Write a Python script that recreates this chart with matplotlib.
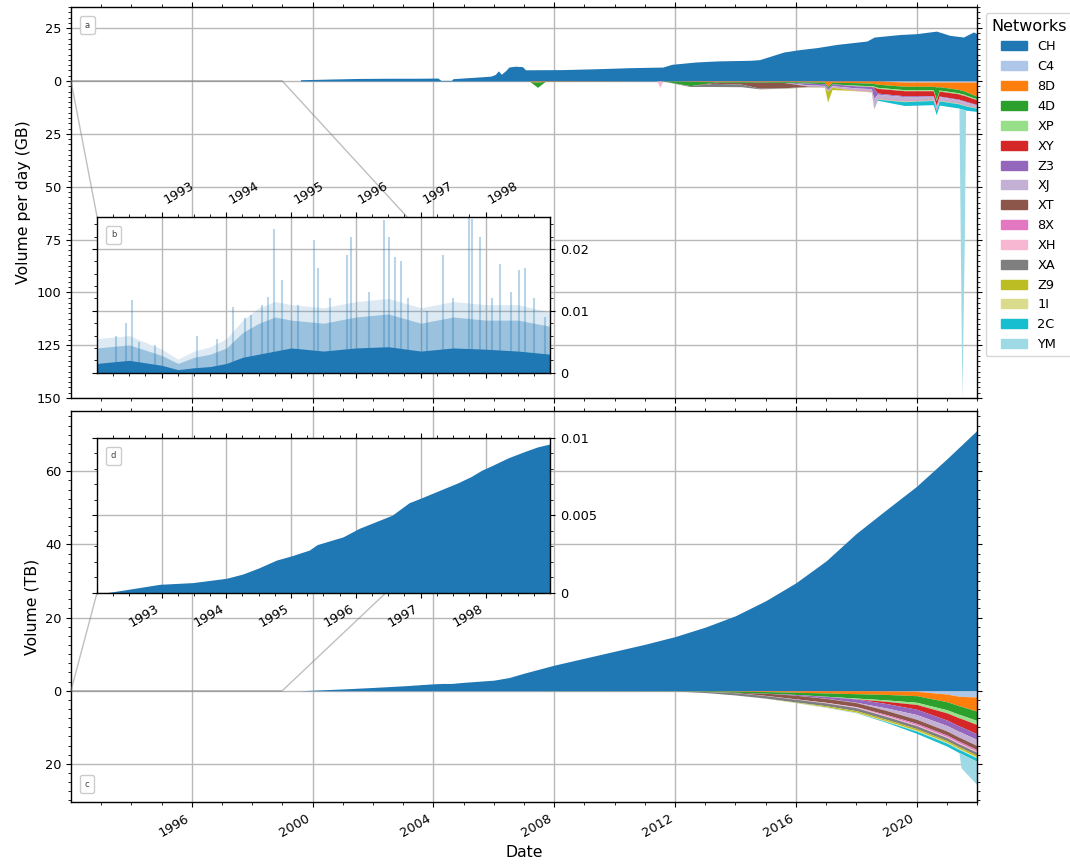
import matplotlib
matplotlib.use("Agg")
import matplotlib.pyplot as plt
import matplotlib.dates as mdates
from matplotlib.offsetbox import AnchoredText
from matplotlib.patches import Patch
from matplotlib.ticker import FuncFormatter, MultipleLocator
import numpy as np
import pandas as pd

networks = ["CH", "C4", "8D", "4D", "XP", "XY", "Z3", "XJ", "XT", "8X", "XH", "XA", "Z9", "1I", "2C", "YM"]
colors = ["#1f77b4", "#aec7e8", "#ff7f0e", "#2ca02c", "#98df8a", "#d62728", "#9467bd", "#c5b0d5",
          "#8c564b", "#e377c2", "#f7b6d2", "#7f7f7f", "#bcbd22", "#dbdb8d", "#17becf", "#9edae5"]

# --- panel a: daily volume (GB), CH upward ---
ch_day_years = [1999.6, 2000.5, 2001.5, 2002.5, 2003.5, 2004.15, 2004.25, 2004.6, 2004.65, 2005.5,
                2005.9, 2006.05, 2006.15, 2006.25, 2006.4, 2006.5, 2006.7, 2006.95, 2007.05, 2008.3,
                2009.4, 2010.5, 2011.6, 2011.9, 2012.7, 2013.4, 2014.5, 2014.8, 2015.6, 2016.1,
                2016.7, 2017.35, 2018.35, 2018.6, 2019.45, 2020.0, 2020.66, 2021.1, 2021.55, 2021.88,
                2022.0]
ch_day = [0.6, 0.9, 1.2, 1.3, 1.3, 1.4, 0.3, 0.3, 1.1, 1.9,
          2.3, 3.1, 4.8, 3.2, 5.0, 6.6, 7.0, 6.8, 5.3, 5.4,
          5.8, 6.3, 6.6, 7.9, 9.0, 9.5, 9.8, 10.1, 13.7, 14.8,
          15.8, 17.3, 18.9, 20.8, 22.0, 22.4, 23.6, 21.6, 20.8, 23.2,
          22.4]

# other networks, stacked downward (GB per day)
neg_day_years = [2007.2, 2007.45, 2007.7, 2011.4, 2011.5, 2011.6, 2012.5, 2013.3, 2014.2, 2014.8,
                 2015.6, 2016.4, 2016.95, 2017.05, 2017.2, 2018.0, 2018.5, 2018.58, 2018.7, 2019.6,
                 2020.55, 2020.65, 2020.75, 2021.4, 2021.45, 2021.5, 2021.58, 2021.62, 2022.0]
day_C4 = [0, 0, 0, 0, 0, 0, 0, 0, 0, 0, 0, 0, 0, 0, 0, 0, 0, 0, 0, 0.5, 0.5, 0.5, 0.5, 0.5, 0.5, 0.5, 0.5, 0.5, 0.5]
day_8D = [0.3, 0.5, 0.2, 0, 0, 0, 0.2, 0.3, 0.3, 0.3, 0.3, 0.4, 0.5, 2.5, 0.6, 0.8, 1.0, 1.2, 1.5, 2.0,
          2.0, 2.3, 2.2, 3.5, 3.8, 4.0, 4.2, 4.5, 6.8]
day_4D = [0, 2.5, 0, 0, 0, 0, 2.0, 0.3, 0.4, 0.3, 0.4, 0.6, 0.8, 0.8, 0.8, 1.2, 1.2, 1.2, 1.5, 1.6,
          1.6, 6.0, 1.6, 1.6, 1.6, 1.6, 1.6, 1.6, 1.2]
day_XP = [0, 0, 0, 0, 0, 0, 0, 0, 0, 0, 0, 0, 0, 0, 0, 0.3, 0.4, 0.4, 0.5, 0.5,
          0.5, 0.5, 0.5, 0.5, 0.5, 0.5, 0.5, 0.5, 0.4]
day_XY = [0, 0, 0, 0, 0, 0, 0, 0, 0, 0, 0, 0, 0, 0, 0, 0, 0, 0.5, 2.2, 2.4,
          2.3, 2.3, 2.3, 2.5, 2.5, 2.5, 2.5, 2.5, 2.2]
day_Z3 = [0, 0, 0, 0, 0, 0, 0, 0, 0, 0, 0, 0.8, 0.8, 0.8, 0.8, 1.0, 1.0, 5.0, 0.5, 0.4,
          0.3, 0.3, 0.3, 0.3, 0.3, 0.3, 0.3, 0.3, 0.3]
day_XJ = [0, 0, 0, 0, 0, 0, 0, 0, 0, 0, 0, 0.6, 0.5, 0.5, 0.5, 0.6, 0.8, 4.0, 1.6, 1.6,
          1.3, 1.3, 1.3, 1.2, 1.2, 1.2, 1.2, 1.2, 0.8]
day_XT = [0, 0, 0, 0, 0, 0, 0, 0.5, 0.8, 2.8, 2.5, 0.2, 0.1, 0.1, 0.1, 0.1, 0.1, 0.1, 0.1, 0.1,
          0.1, 0.1, 0.1, 0.1, 0.1, 0.1, 0.1, 0.1, 0.1]
day_8X = [0, 0, 0, 0, 0, 0, 0, 0, 0, 0, 0, 0, 0, 0, 0, 0.3, 0.3, 0.4, 0.3, 0.3,
          0.2, 0.2, 0.2, 0.2, 0.2, 0.2, 0.2, 0.2, 0.2]
day_XH = [0, 0, 0, 0, 3.0, 0, 0, 0, 0, 0, 0, 0.1, 0.1, 0.1, 0.1, 0.1, 0.1, 0.1, 0.1, 0.1,
          0.1, 0.1, 0.1, 0.1, 0.1, 0.1, 0.1, 0.1, 0.1]
day_XA = [0, 0, 0, 0, 0, 0, 0.4, 1.5, 1.2, 0.3, 0.2, 0.1, 0.1, 0.1, 0.1, 0.1, 0.1, 0.1, 0.1, 0.1,
          0.1, 0.1, 0.1, 0.1, 0.1, 0.1, 0.1, 0.1, 0.1]
day_Z9 = [0, 0, 0, 0, 0, 0, 0, 0, 0, 0, 0, 0, 0, 5.0, 1.0, 0.1, 0.1, 0.1, 0.1, 0.1,
          0.1, 0.1, 0.1, 0.1, 0.1, 0.1, 0.1, 0.1, 0.1]
day_1I = [0, 0, 0, 0, 0, 0, 0, 0, 0, 0, 0.1, 0.1, 0.1, 0.1, 0.1, 0.1, 0.1, 0.1, 0.1, 0.1,
          0.1, 0.1, 0.1, 0.1, 0.1, 0.1, 0.1, 0.1, 0.1]
day_2C = [0, 0, 0, 0, 0, 0, 0, 0, 0, 0, 0, 0, 0, 0, 0, 0, 0, 0, 0.5, 1.8,
          2.0, 2.0, 2.0, 2.0, 2.0, 2.0, 2.0, 2.0, 1.5]
day_YM = [0, 0, 0, 0, 0, 0, 0, 0, 0, 0, 0, 0, 0, 0, 0, 0, 0, 0, 0, 0,
          0, 0, 0, 0, 70, 137, 60, 0, 0]

# --- panel b: early daily volume (GB), 1992-1999 ---
b_years = [1992.0, 1992.5, 1993.0, 1993.25, 1993.5, 1993.75, 1994.0, 1994.25, 1994.5, 1994.75,
           1995.0, 1995.5, 1996.0, 1996.5, 1997.0, 1997.5, 1998.0, 1998.5, 1999.0]
b_solid = [0.0015, 0.002, 0.0012, 0.0005, 0.0008, 0.001, 0.0015, 0.0025, 0.003, 0.0035,
           0.004, 0.0035, 0.004, 0.0042, 0.0035, 0.004, 0.0038, 0.0035, 0.003]
b_haze = [0.004, 0.0045, 0.0028, 0.0015, 0.0025, 0.003, 0.004, 0.0065, 0.008, 0.009,
          0.0085, 0.008, 0.009, 0.0095, 0.008, 0.009, 0.0085, 0.0085, 0.0075]
b_haze_top = [0.0055, 0.006, 0.0038, 0.0022, 0.0035, 0.0042, 0.0055, 0.0085, 0.0105, 0.0115,
              0.011, 0.0105, 0.0115, 0.012, 0.0105, 0.0115, 0.011, 0.011, 0.0098]
b_spike_years = [1992.3, 1992.45, 1992.54, 1992.65, 1992.9, 1993.55, 1993.85, 1994.1, 1994.28, 1994.38,
                 1994.55, 1994.64, 1994.74, 1994.85, 1995.11, 1995.35, 1995.42, 1995.6, 1995.86, 1995.92,
                 1996.2, 1996.43, 1996.51, 1996.61, 1996.69, 1996.8, 1997.1, 1997.35, 1997.5, 1997.74,
                 1997.79, 1997.92, 1998.1, 1998.23, 1998.4, 1998.51, 1998.61, 1998.75, 1998.92]
b_spikes = [0.006, 0.008, 0.0117, 0.005, 0.0045, 0.006, 0.0055, 0.0106, 0.0089, 0.0094,
            0.011, 0.0123, 0.0233, 0.015, 0.011, 0.0214, 0.017, 0.012, 0.019, 0.022,
            0.013, 0.0246, 0.022, 0.0187, 0.018, 0.012, 0.01, 0.019, 0.012, 0.025,
            0.0249, 0.022, 0.012, 0.0176, 0.013, 0.0166, 0.017, 0.012, 0.009]

# --- panel c: cumulative volume (TB) ---
ch_cum_years = [1999.6, 2000.0, 2001.0, 2002.0, 2003.0, 2004.0, 2004.3, 2004.6, 2005.0, 2006.0,
                2006.5, 2007.0, 2008.0, 2009.0, 2010.0, 2011.0, 2012.0, 2013.0, 2014.0, 2015.0,
                2016.0, 2017.0, 2018.0, 2019.0, 2020.0, 2021.0, 2022.0]
ch_cum = [0.01, 0.15, 0.5, 0.9, 1.35, 1.9, 2.0, 2.0, 2.3, 2.9,
          3.6, 4.8, 7.0, 8.9, 10.8, 12.7, 14.8, 17.4, 20.5, 24.6,
          29.5, 35.5, 43.0, 49.5, 55.9, 63.4, 71.2]

neg_cum_years = [2007.5, 2012.0, 2013.0, 2014.0, 2015.0, 2016.0, 2017.0, 2018.0, 2019.0, 2020.0,
                 2021.0, 2021.4, 2021.47, 2022.0]
cum_C4 = [0, 0, 0, 0, 0, 0, 0, 0, 0.05, 0.15, 0.9, 1.5, 1.55, 1.7]
cum_8D = [0.01, 0.02, 0.05, 0.12, 0.22, 0.4, 0.6, 0.8, 0.95, 1.2, 2.1, 2.6, 2.7, 3.9]
cum_4D = [0.01, 0.03, 0.12, 0.3, 0.45, 0.6, 0.9, 1.2, 1.5, 1.8, 2.2, 2.35, 2.37, 2.55]
cum_XP = [0, 0, 0, 0, 0, 0, 0.05, 0.2, 0.4, 0.6, 0.85, 0.95, 0.96, 1.1]
cum_XY = [0, 0, 0, 0, 0, 0, 0, 0.05, 0.6, 1.3, 1.95, 2.2, 2.25, 2.55]
cum_Z3 = [0, 0, 0, 0, 0, 0.2, 0.5, 0.9, 1.2, 1.45, 1.5, 1.52, 1.53, 1.55]
cum_XJ = [0, 0, 0, 0, 0, 0.02, 0.05, 0.1, 0.7, 1.3, 1.5, 1.57, 1.58, 1.65]
cum_XT = [0, 0, 0, 0.1, 0.6, 1.0, 1.05, 1.08, 1.1, 1.1, 1.1, 1.1, 1.1, 1.1]
cum_8X = [0, 0, 0, 0, 0, 0, 0.02, 0.1, 0.3, 0.4, 0.43, 0.44, 0.44, 0.45]
cum_XH = [0, 0.01, 0.02, 0.03, 0.05, 0.1, 0.15, 0.2, 0.22, 0.25, 0.27, 0.28, 0.28, 0.3]
cum_XA = [0, 0, 0.3, 0.6, 0.7, 0.75, 0.78, 0.8, 0.8, 0.8, 0.8, 0.8, 0.8, 0.8]
cum_Z9 = [0, 0, 0, 0, 0, 0.1, 0.3, 0.4, 0.42, 0.44, 0.45, 0.45, 0.45, 0.45]
cum_1I = [0, 0, 0, 0, 0.02, 0.05, 0.1, 0.15, 0.2, 0.25, 0.28, 0.29, 0.29, 0.3]
cum_2C = [0, 0, 0, 0, 0, 0.02, 0.03, 0.05, 0.2, 0.6, 0.8, 0.85, 0.86, 0.9]
cum_YM = [0, 0, 0, 0, 0, 0, 0, 0, 0, 0, 0, 0, 3.9, 6.4]

# --- panel d: early cumulative volume (TB) ---
d_years = [1992.15, 1992.46, 1992.97, 1993.48, 1994.0, 1994.25, 1994.5, 1994.77, 1995.0, 1995.28,
           1995.4, 1995.8, 1996.05, 1996.56, 1996.82, 1997.0, 1997.58, 1997.78, 1997.94, 1998.1,
           1998.35, 1998.6, 1998.8, 1999.0]
d_cum = [0, 0.0002, 0.00054, 0.00065, 0.00093, 0.0012, 0.0016, 0.0021, 0.00237, 0.00275,
         0.0031, 0.0036, 0.00415, 0.005, 0.0058, 0.0061, 0.0071, 0.0075, 0.0079, 0.0082,
         0.0087, 0.0091, 0.0094, 0.0096]

neg_day = [day_C4, day_8D, day_4D, day_XP, day_XY, day_Z3, day_XJ, day_XT,
           day_8X, day_XH, day_XA, day_Z9, day_1I, day_2C, day_YM]
neg_cum = [cum_C4, cum_8D, cum_4D, cum_XP, cum_XY, cum_Z3, cum_XJ, cum_XT,
           cum_8X, cum_XH, cum_XA, cum_Z9, cum_1I, cum_2C, cum_YM]

TICK_SIZE = 9.3
LABEL_SIZE = 11.3


def to_dates(years):
    years = np.asarray(years, dtype=float)
    whole = np.floor(years).astype(int)
    start = pd.to_datetime(whole.astype(str), format="%Y")
    return (start + pd.to_timedelta((years - whole) * 365.25, unit="D")).to_numpy()


def stack_down(ax, years, layers):
    x = to_dates(years)
    totals = np.cumsum(np.array(layers, dtype=float), axis=0)
    upper = np.zeros(len(years))
    for total, color in zip(totals, colors[1:]):
        ax.fill_between(x, -upper, -total, color=color, lw=0)
        upper = total


def panel_label(ax, text, loc):
    box = AnchoredText(text, loc=loc, prop=dict(size=6, color="0.25"), frameon=True,
                       pad=0.55, borderpad=1.1)
    box.patch.set_boxstyle("round,pad=0,rounding_size=0.25")
    box.patch.set_edgecolor("0.8")
    box.patch.set_linewidth(1.0)
    ax.add_artist(box)


abs_fmt = FuncFormatter(lambda v, p: f"{abs(v):g}")
plain_fmt = FuncFormatter(lambda v, p: f"{v:g}")

plt.rcParams["font.size"] = TICK_SIZE
plt.rcParams["axes.linewidth"] = 1.0

fig = plt.figure(figsize=(10.7, 8.67), dpi=100)
ax_a = fig.add_axes([0.0664, 0.5409, 0.8467, 0.4510])
ax_c = fig.add_axes([0.0664, 0.0746, 0.8467, 0.4514], sharex=ax_a)
ax_b = fig.add_axes([0.0907, 0.5701, 0.4234, 0.1799])
ax_d = fig.add_axes([0.0907, 0.3164, 0.4234, 0.1788])

# panel a
ax_a.fill_between(to_dates(ch_day_years), 0, ch_day, color=colors[0], lw=0)
stack_down(ax_a, neg_day_years, neg_day)
ax_a.set_ylim(-150, 35)
ax_a.yaxis.set_major_locator(MultipleLocator(25))
ax_a.yaxis.set_minor_locator(MultipleLocator(2.5))
ax_a.yaxis.set_major_formatter(abs_fmt)
ax_a.set_ylabel("Volume per day (GB)", fontsize=LABEL_SIZE)
ax_a.tick_params(axis="x", labelbottom=False)

# panel c
ax_c.fill_between(to_dates(ch_cum_years), 0, ch_cum, color=colors[0], lw=0)
stack_down(ax_c, neg_cum_years, neg_cum)
ax_c.set_ylim(-30.5, 76.5)
ax_c.yaxis.set_major_locator(MultipleLocator(20))
ax_c.yaxis.set_minor_locator(MultipleLocator(2.5))
ax_c.yaxis.set_major_formatter(abs_fmt)
ax_c.set_ylabel("Volume (TB)", fontsize=LABEL_SIZE)
ax_c.set_xlabel("Date", fontsize=LABEL_SIZE)

ax_c.set_xlim(to_dates([1992.005, 2022.0]))
for ax in (ax_a, ax_c):
    ax.xaxis.set_major_locator(mdates.YearLocator(4))
    ax.xaxis.set_minor_locator(mdates.YearLocator(1))
    ax.xaxis.set_major_formatter(mdates.DateFormatter("%Y"))
    ax.tick_params(which="both", direction="out", top=True, right=True)
    ax.grid(True, color="#b8b8b8", lw=1.0)
    ax.set_axisbelow(True)
plt.setp(ax_c.get_xticklabels(), rotation=30, ha="right")

# panel b: dense daily bars shown as layered haze plus the tallest days
b_x = to_dates(b_years)
ax_b.fill_between(b_x, 0, b_haze_top, color=colors[0], alpha=0.15, lw=0)
ax_b.fill_between(b_x, 0, b_haze, color=colors[0], alpha=0.35, lw=0)
ax_b.fill_between(b_x, 0, b_solid, color=colors[0], lw=0)
ax_b.vlines(to_dates(b_spike_years), 0, b_spikes, color=colors[0], alpha=0.3, lw=1.5)
ax_b.set_ylim(0, 0.0252)
ax_b.yaxis.set_major_locator(MultipleLocator(0.01))
ax_b.yaxis.set_minor_locator(MultipleLocator(0.002))
ax_b.tick_params(axis="x", which="both", top=True, bottom=True, labeltop=True, labelbottom=False)

# panel d
ax_d.fill_between(to_dates(d_years), 0, d_cum, color=colors[0], lw=0)
ax_d.set_ylim(0, 0.01)
ax_d.yaxis.set_major_locator(MultipleLocator(0.005))
ax_d.yaxis.set_minor_locator(MultipleLocator(0.001))
ax_d.tick_params(axis="x", which="both", top=True, bottom=True)

for ax in (ax_b, ax_d):
    ax.set_xlim(to_dates([1992.003, 1998.997]))
    ax.xaxis.set_major_locator(mdates.YearLocator(1))
    ax.xaxis.set_minor_locator(mdates.MonthLocator(bymonth=[1, 4, 7, 10]))
    ax.xaxis.set_major_formatter(mdates.DateFormatter("%Y"))
    ax.yaxis.set_major_formatter(plain_fmt)
    ax.tick_params(axis="y", which="both", left=True, right=True, labelleft=False, labelright=True)
    ax.tick_params(which="both", direction="out")
    ax.grid(True, color="#b8b8b8", lw=1.0)
    ax.set_axisbelow(True)
plt.setp(ax_b.get_xticklabels(), rotation=30, ha="left")
plt.setp(ax_d.get_xticklabels(), rotation=30, ha="right")

ax_a.indicate_inset_zoom(ax_b, edgecolor="0.5")
ax_c.indicate_inset_zoom(ax_d, edgecolor="0.5")

panel_label(ax_a, "a", "upper left")
panel_label(ax_b, "b", "upper left")
panel_label(ax_c, "c", "lower left")
panel_label(ax_d, "d", "upper left")

handles = [Patch(color=c, label=n) for n, c in zip(networks, colors)]
ax_a.legend(handles=handles, title="Networks", loc="upper left", bbox_to_anchor=(1.0025, 1.0),
            fontsize=TICK_SIZE, title_fontsize=11.5, labelspacing=0.53)

fig.savefig("out.png", dpi=100)
